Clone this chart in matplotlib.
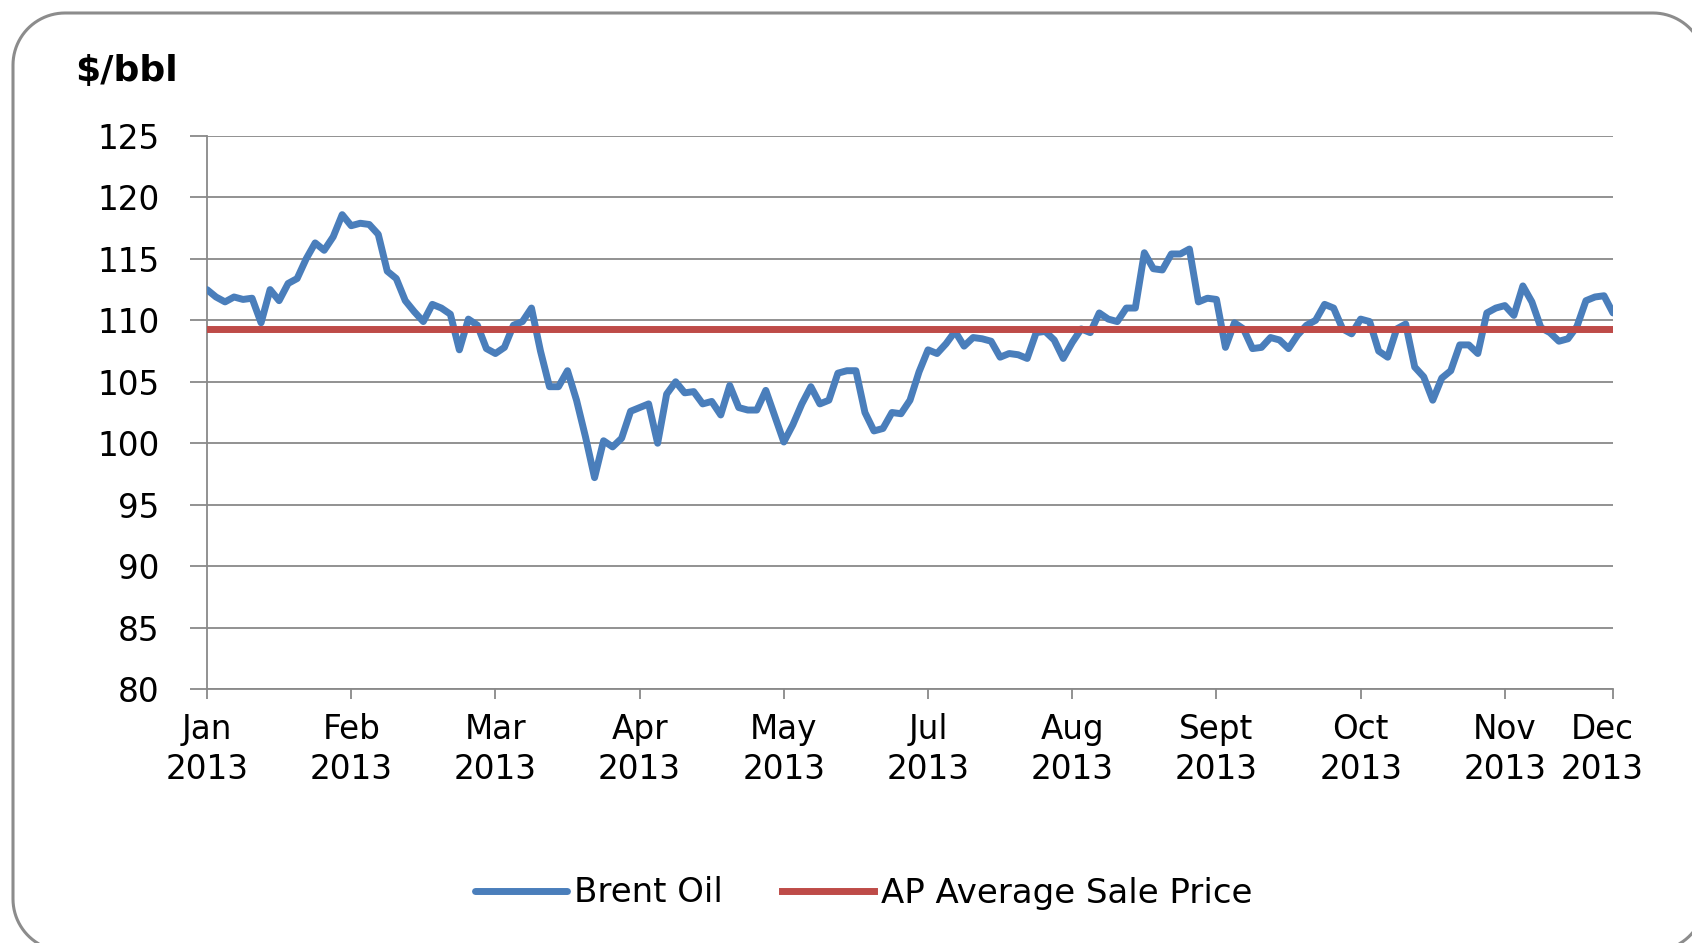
import numpy as np
import matplotlib
matplotlib.use("Agg")
import matplotlib.pyplot as plt
from matplotlib.path import Path
from matplotlib.patches import PathPatch
import matplotlib.transforms as mtransforms

# ---- data ----
brent_oil = [
    112.5, 111.9, 111.5, 111.9, 111.7, 111.8, 109.8, 112.5, 111.6, 113.0,
    113.4, 115.0, 116.3, 115.7, 116.8, 118.6, 117.7, 117.9, 117.8, 117.0,
    114.0, 113.4, 111.6, 110.7, 109.9, 111.3, 111.0, 110.5, 107.6, 110.1,
    109.6, 107.7, 107.3, 107.8, 109.6, 109.9, 111.0, 107.5, 104.6, 104.6,
    105.9, 103.5, 100.5, 97.2, 100.2, 99.7, 100.4, 102.6, 102.9, 103.2,
    100.0, 104.0, 105.0, 104.1, 104.2, 103.2, 103.4, 102.3, 104.7, 102.9,
    102.7, 102.7, 104.3, 102.2, 100.1, 101.5, 103.2, 104.6, 103.2, 103.5,
    105.7, 105.9, 105.9, 102.5, 101.0, 101.2, 102.5, 102.4, 103.5, 105.8,
    107.6, 107.3, 108.1, 109.1, 107.9, 108.6, 108.5, 108.3, 107.0, 107.3,
    107.2, 106.9, 109.0, 109.1, 108.4, 106.9, 108.2, 109.3, 109.0, 110.6,
    110.1, 109.9, 111.0, 111.0, 115.5, 114.2, 114.1, 115.4, 115.4, 115.8,
    111.5, 111.8, 111.7, 107.8, 109.8, 109.3, 107.7, 107.8, 108.6, 108.4,
    107.7, 108.8, 109.6, 110.0, 111.3, 111.0, 109.3, 108.9, 110.1, 109.9,
    107.5, 107.0, 109.3, 109.7, 106.2, 105.4, 103.5, 105.3, 105.9, 108.0,
    108.0, 107.3, 110.6, 111.0, 111.2, 110.4, 112.8, 111.5, 109.4, 109.0,
    108.3, 108.5, 109.5, 111.6, 111.9, 112.0, 110.6,
]
ap_average_sale_price = 109.3
tick_labels = ["Jan\n2013", "Feb\n2013", "Mar\n2013", "Apr\n2013", "May\n2013",
               "Jul\n2013", "Aug\n2013", "Sept\n2013", "Oct\n2013", "Nov\n2013",
               "Dec\n2013"]
tick_index = [0, 16, 32, 48, 64, 80, 96, 112, 128, 144, 156]
y_ticks = [80, 85, 90, 95, 100, 105, 110, 115, 120, 125]

# ---- style ----
plt.rcParams['font.family'] = ['DejaVu Sans']
BLUE = "#4A7EBB"
RED = "#BE4B48"
GRID = "#898989"
FS = 23.5

W, H = 1692, 943
fig = plt.figure(figsize=(W / 100, H / 100), dpi=100)
fig.patch.set_facecolor("white")

# rounded outer frame in pixel coordinates (partly off-canvas, as in the reference)
def rounded_rect_path(x0, y0, x1, y1, r, n=24):
    verts = []
    corners = [((x1 - r, y1 - r), 0, 90), ((x0 + r, y1 - r), 90, 180),
               ((x0 + r, y0 + r), 180, 270), ((x1 - r, y0 + r), 270, 360)]
    for (cx, cy), a0, a1 in corners:
        for t in np.linspace(np.radians(a0), np.radians(a1), n):
            verts.append((cx + r * np.cos(t), cy + r * np.sin(t)))
    verts.append(verts[0])
    codes = [Path.MOVETO] + [Path.LINETO] * (len(verts) - 2) + [Path.CLOSEPOLY]
    return Path(verts, codes)

frame_path = rounded_rect_path(13, -8, 1705, H - 13, 52)
frame = PathPatch(frame_path, transform=mtransforms.IdentityTransform(),
                  facecolor="none", edgecolor="#8C8C8C", linewidth=2.2,
                  zorder=0)
fig.patches.append(frame)

left, right = 207 / W, 1613 / W
top, bottom = 1 - 136 / H, 1 - 689 / H
ax = fig.add_axes([left, bottom, right - left, top - bottom])

x = np.arange(len(brent_oil))
ax.plot(x, brent_oil, color=BLUE, linewidth=5.0, solid_joinstyle="round",
        solid_capstyle="round", label="Brent Oil", zorder=3)
ax.plot(x, np.full(len(x), ap_average_sale_price), color=RED, linewidth=5.0,
        label="AP Average Sale Price", zorder=4)

ax.set_xlim(0, len(brent_oil) - 1)
ax.set_ylim(80, 125)
ax.set_yticks(y_ticks)
ax.set_yticklabels([str(v) for v in y_ticks])
ax.set_xticks(tick_index)
ax.set_xticklabels(tick_labels)

ax.grid(axis="y", color=GRID, linewidth=1.3, zorder=1)
ax.set_axisbelow(True)
for s in ["top", "right"]:
    ax.spines[s].set_visible(False)
for s in ["left", "bottom"]:
    ax.spines[s].set_color(GRID)
    ax.spines[s].set_linewidth(1.3)

ax.tick_params(axis="y", direction="out", length=12, width=1.3, color=GRID,
               pad=22, labelsize=FS, labelcolor="black")
ax.tick_params(axis="x", direction="out", length=7, width=1.3, color=GRID,
               pad=10, labelsize=FS, labelcolor="black")
for lbl in ax.get_xticklabels():
    lbl.set_linespacing(1.3)
last = ax.get_xticklabels()[-1]
last.set_transform(last.get_transform() +
                   mtransforms.ScaledTranslation(-0.11, 0, fig.dpi_scale_trans))

fig.text(75 / W, 1 - 71 / H, "$/bbl", fontsize=26, fontweight="bold",
         ha="left", va="center", color="black")

leg = fig.legend(loc="center", bbox_to_anchor=(0.5106, 1 - 893 / H), ncol=2,
                 frameon=False, fontsize=24.5, handlelength=2.7,
                 handletextpad=0.2, columnspacing=1.75)

fig.savefig("out.png", dpi=100, facecolor="white")
